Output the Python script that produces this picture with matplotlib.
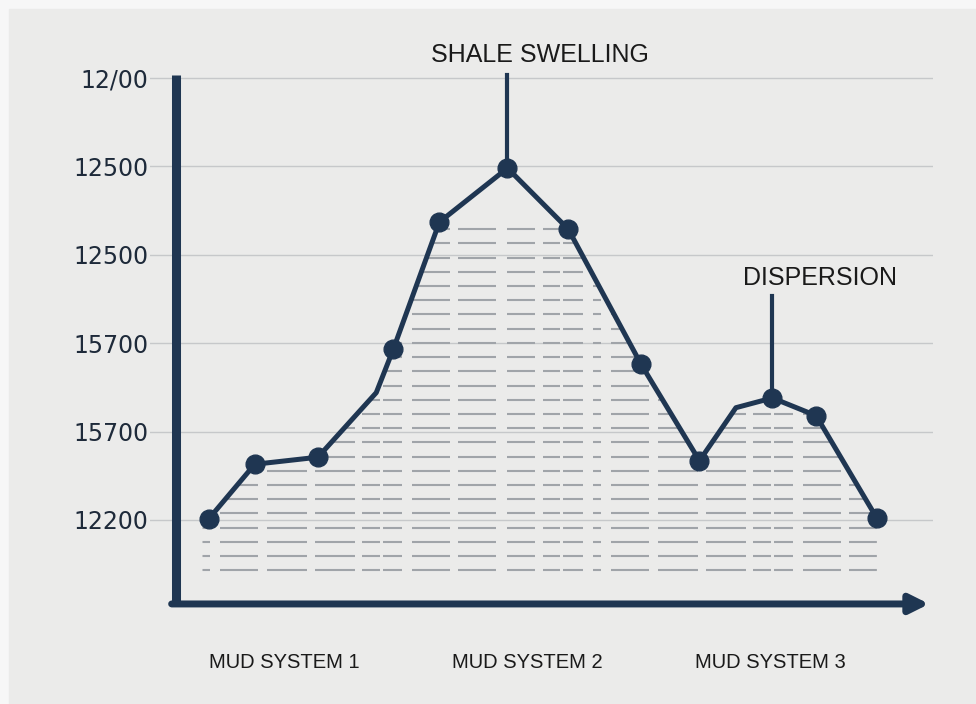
import matplotlib.pyplot as plt
import numpy as np
from matplotlib.patches import Rectangle, Polygon
from matplotlib import transforms

plt.rcParams['lines.scale_dashes'] = False

# --- DATA ---
categories = ['MUD SYSTEM 1', 'MUD SYSTEM 2', 'MUD SYSTEM 3']
cat_pos = [1, 2, 3]
tick_labels = ['12200', '15700', '15700', '12500', '12500', '12/00']

x_vals = [0.69, 0.88, 1.14, 1.38, 1.45, 1.64, 1.92, 2.17, 2.47, 2.71, 2.86, 3.01, 3.19, 3.44]
y_vals = [0.01, 0.63, 0.71, 1.44, 1.93, 3.37, 3.98, 3.29, 1.76, 0.67, 1.27, 1.38, 1.18, 0.02]
marked = [0, 1, 2, 4, 5, 6, 7, 8, 9, 11, 12, 13]

notes = [('SHALE SWELLING', 6, 2.053, 5.26, 5.03),
         ('DISPERSION', 11, 3.206, 2.74, 2.53)]

navy = '#1f3652'
bg = '#ebebea'

fig = plt.figure(figsize=(9.76, 7.04), dpi=100)
fig.patch.set_facecolor('#f7f7f7')
fig.add_artist(Rectangle((9 / 976, 0), 1, 1 - 9 / 704, transform=fig.transFigure,
                         color=bg, zorder=0))

ax = fig.add_axes([150 / 976, 1 - 615 / 704, 783 / 976, 545 / 704])
ax.set_facecolor('none')
ax.set_xlim(0.449, 3.671)
ax.set_ylim(-1.075, 5.09)

# grid + ticks
ax.set_yticks(range(len(tick_labels)))
ax.set_yticklabels(tick_labels, fontsize=17, color='#1e2a3a', family='DejaVu Sans')
ax.tick_params(axis='y', length=0, pad=1)
ax.set_xticks([])
ax.grid(axis='y', color='#c6c8ca', lw=1.0, zorder=1)
for s in ax.spines.values():
    s.set_visible(False)

# dashed fill under the curve
base = -0.57
poly = Polygon(list(zip([x_vals[0] - 0.025] + x_vals + [x_vals[-1]],
                        [y_vals[0]] + y_vals + [y_vals[-1]])) +
               [(x_vals[-1], base - 0.1), (x_vals[0] - 0.025, base - 0.1)],
               closed=True, transform=ax.transData, facecolor='none', edgecolor='none')
ax.add_patch(poly)
px = 0.72  # px -> pt
pattern = [8, 10, 38, 9, 40, 8, 40, 7, 18, 3, 19, 10, 38, 8, 38, 11, 28, 8, 17, 3, 20, 10]
for yl in np.linspace(3.29, base, 25):
    ln, = ax.plot([0.663, 3.45], [yl, yl], color='#a0a4a9', lw=1.5,
                  dashes=[p * px for p in pattern], zorder=2)
    ln.set_clip_path(poly)

# main line
ax.plot(x_vals, y_vals, color=navy, lw=3.6, marker='o', markersize=13.5,
        markevery=marked, zorder=5, solid_joinstyle='round')

# axes lines
ax.plot([0.556, 0.556], [-0.95, 5.03], color=navy, lw=6.5, solid_capstyle='butt',
        zorder=6, clip_on=False)
ax.annotate('', xy=(3.655, -0.95), xytext=(0.538, -0.95),
            arrowprops=dict(arrowstyle='-|>', lw=5, color=navy, mutation_scale=28,
                            shrinkA=0, shrinkB=0), zorder=6, annotation_clip=False)

# annotations
for label, idx, tx, ty, top in notes:
    ax.plot([x_vals[idx], x_vals[idx]], [top, y_vals[idx]], color=navy, lw=3,
            zorder=4, clip_on=False)
    ax.text(tx, ty, label, fontsize=18, family='Liberation Sans', color='#1a1a1a',
            ha='center', va='center')

# category labels
trans = transforms.blended_transform_factory(ax.transData, fig.transFigure)
for c, xp in zip(categories, cat_pos):
    ax.text(xp, 1 - 663 / 704, c, transform=trans, fontsize=14.5,
            family='Liberation Sans', color='#1a1a1a', ha='center', va='center')

fig.savefig('out.png', dpi=100, facecolor=fig.get_facecolor())
